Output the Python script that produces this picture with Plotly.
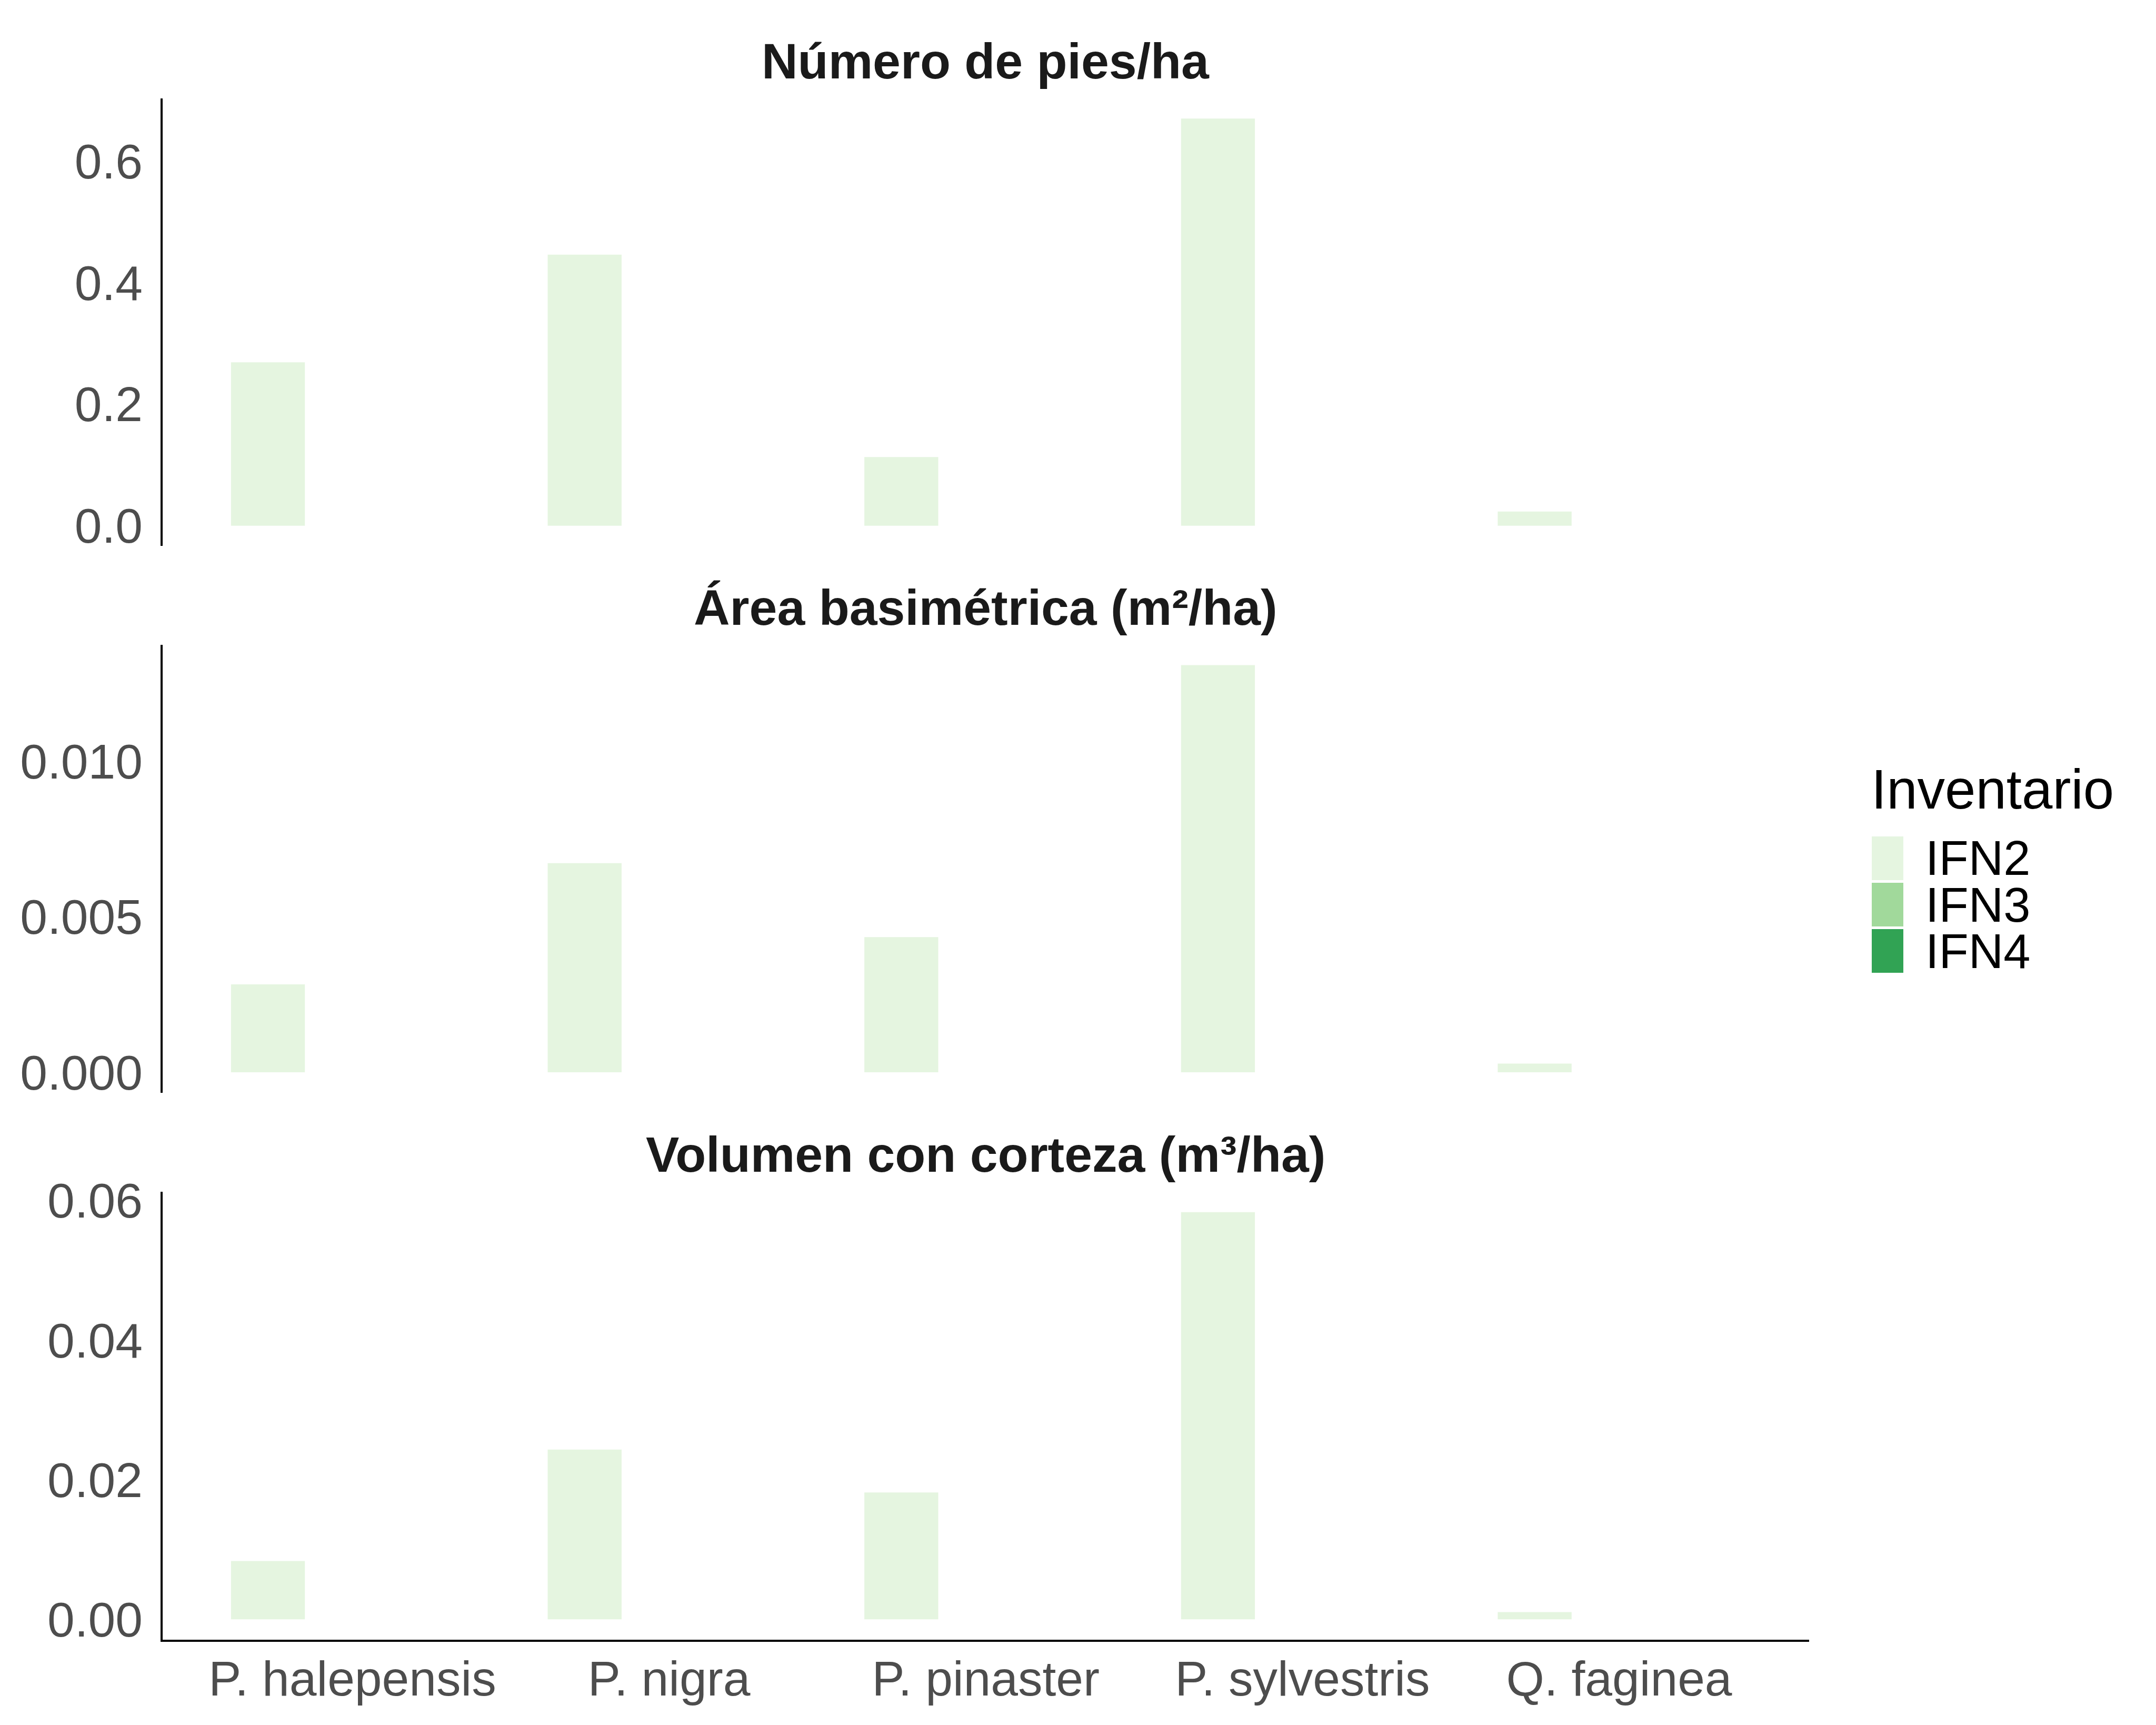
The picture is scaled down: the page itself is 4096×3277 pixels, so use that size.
import plotly.graph_objects as go

# ---------------- data ----------------
species = ["P. halepensis", "P. nigra", "P. pinaster", "P. sylvestris", "Q. faginea"]
inventories = ["IFN2", "IFN3", "IFN4"]
inv_colors = ["#E5F5E0", "#A1D99B", "#31A354"]

panel_titles = ["Número de pies/ha", "Área basimétrica (m²/ha)", "Volumen con corteza (m³/ha)"]

pies_ifn2 = [0.269, 0.446, 0.113, 0.670, 0.0234]
area_ifn2 = [0.00283, 0.00673, 0.00435, 0.0131, 0.00028]
vol_ifn2 = [0.00836, 0.02432, 0.01818, 0.05835, 0.00104]
missing = [None, None, None, None, None]

panel_values = [
    {"IFN2": pies_ifn2, "IFN3": missing, "IFN4": missing},
    {"IFN2": area_ifn2, "IFN3": missing, "IFN4": missing},
    {"IFN2": vol_ifn2, "IFN3": missing, "IFN4": missing},
]
panel_ticks = [[0.0, 0.2, 0.4, 0.6], [0.0, 0.005, 0.010], [0.0, 0.02, 0.04, 0.06]]
panel_fmt = [".1f", ".3f", ".2f"]

# ---------------- layout geometry ----------------
W, H = 4096, 3277
x_dom = [0.07532, 0.83911]
y_doms = [[0.68343, 0.94306], [0.36659, 0.62621], [0.04944, 0.30912]]

TICK_FONT = dict(family="Liberation Sans, Arial, sans-serif", size=93, color="#4D4D4D")
TITLE_FONT = dict(family="Liberation Sans, Arial, sans-serif", size=95, color="#1A1A1A")
LEG_FONT = dict(family="Liberation Sans, Arial, sans-serif", size=92, color="#000000")
LEG_TITLE_FONT = dict(family="Liberation Sans, Arial, sans-serif", size=105, color="#000000")

fig = go.Figure()

for p in range(3):
    xa = "x" if p == 0 else f"x{p+1}"
    ya = "y" if p == 0 else f"y{p+1}"
    for inv, col in zip(inventories, inv_colors):
        fig.add_trace(go.Bar(
            x=species, y=panel_values[p][inv], name=inv,
            marker=dict(color=col, line=dict(width=0)),
            xaxis=xa, yaxis=ya, showlegend=False, offsetgroup=inv,
        ))

layout = dict(
    width=W, height=H,
    margin=dict(l=0, r=0, t=0, b=0, autoexpand=False),
    paper_bgcolor="white", plot_bgcolor="white",
    barmode="group", bargap=0.2, bargroupgap=0.125,
    showlegend=False,
)

for p in range(3):
    xkey = "xaxis" if p == 0 else f"xaxis{p+1}"
    ykey = "yaxis" if p == 0 else f"yaxis{p+1}"
    ykey_anchor = "y" if p == 0 else f"y{p+1}"
    xkey_anchor = "x" if p == 0 else f"x{p+1}"
    last = (p == 2)
    layout[xkey] = dict(
        domain=x_dom, anchor=ykey_anchor, type="category",
        categoryorder="array", categoryarray=species,
        range=[-0.6, len(species) - 0.4],
        showgrid=False, zeroline=False,
        showline=last, linecolor="black", linewidth=3.7,
        showticklabels=last, ticks="", tickfont=TICK_FONT,
        ticklabelstandoff=-9, automargin=False,
        fixedrange=True,
    )
    vals = [v for v in panel_values[p]["IFN2"] if v is not None]
    vmax = max(vals)
    layout[ykey] = dict(
        domain=y_doms[p], anchor=xkey_anchor,
        range=[-0.05 * vmax, 1.05 * vmax],
        tickvals=panel_ticks[p], tickformat=panel_fmt[p],
        showgrid=False, zeroline=False,
        showline=True, linecolor="black", linewidth=3.7,
        ticks="", tickfont=TICK_FONT, ticklabelstandoff=15, automargin=False,
        fixedrange=True,
    )

annotations = []
# strip titles
title_offset = 0.0216  # paper units above each panel (cap centre)
for p in range(3):
    annotations.append(dict(
        text=f"<b>{panel_titles[p]}</b>", xref="paper", yref="paper",
        x=(x_dom[0] + x_dom[1]) / 2, y=y_doms[p][1] + title_offset,
        xanchor="center", yanchor="middle", showarrow=False, font=TITLE_FONT,
    ))

# manual legend (tall ggplot-style keys)
key_x0, key_x1 = 0.86816, 0.88281
key_top = 0.51511
key_h = 0.02533
key_step = 0.02686
annotations.append(dict(
    text="Inventario", xref="paper", yref="paper",
    x=0.8674, y=1 - 1500 / H, xanchor="left", yanchor="middle",
    showarrow=False, font=LEG_TITLE_FONT,
))
shapes = []
for i, (inv, col) in enumerate(zip(inventories, inv_colors)):
    top = key_top - i * key_step
    shapes.append(dict(
        type="rect", xref="paper", yref="paper",
        x0=key_x0, x1=key_x1, y0=top - key_h, y1=top,
        fillcolor=col, line=dict(width=0), layer="above",
    ))
    annotations.append(dict(
        text=inv, xref="paper", yref="paper",
        x=0.8927, y=top - key_h / 2, xanchor="left", yanchor="middle",
        showarrow=False, font=LEG_FONT,
    ))

layout["annotations"] = annotations
layout["shapes"] = shapes
fig.update_layout(**layout)

fig.write_html("out.html", config={"displayModeBar": False})
